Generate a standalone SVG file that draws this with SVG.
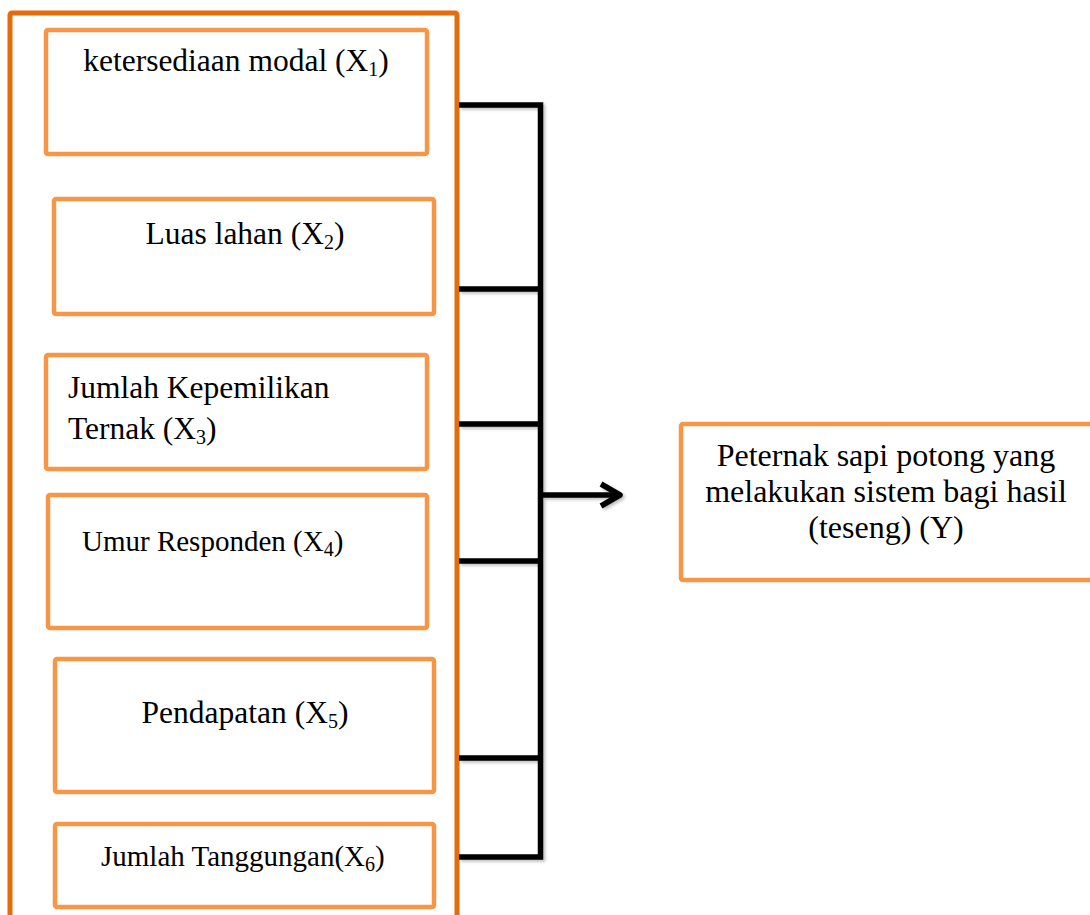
<svg xmlns="http://www.w3.org/2000/svg" width="1090" height="915" viewBox="0 0 1090 915">
<style>
.outer{fill:none;stroke:#E46C0A;stroke-width:5}
.box{fill:#fff;stroke:#F79646;stroke-width:4.5}
.t{font-family:"Liberation Serif","Times New Roman",serif;font-size:31.5px;fill:#000}
.ty{font-family:"Liberation Serif","Times New Roman",serif;font-size:32px;fill:#000}
.ts{font-family:"Liberation Serif","Times New Roman",serif;font-size:29px;fill:#000}
.sub{font-size:20px}
.ln{fill:none;stroke:#000;stroke-width:5.5;stroke-linecap:butt}
</style>
<defs>
<filter id="sh" x="-10%" y="-10%" width="120%" height="120%">
<feDropShadow dx="2" dy="2" stdDeviation="1.5" flood-color="#000" flood-opacity="0.25"/>
</filter>
</defs>
<rect class="outer" x="10" y="13" width="447" height="920" rx="2"/>
<g id="node-x1">
<rect class="box" x="46" y="30" width="381" height="124" rx="2"/>
<text class="t" x="236" y="71" text-anchor="middle">ketersediaan modal (X<tspan class="sub" dy="5">1</tspan><tspan dy="-5">)</tspan></text>
</g>
<g id="node-x2">
<rect class="box" x="54" y="199" width="380" height="115" rx="2"/>
<text class="t" x="245" y="244" text-anchor="middle">Luas lahan (X<tspan class="sub" dy="5">2</tspan><tspan dy="-5">)</tspan></text>
</g>
<g id="node-x3">
<rect class="box" x="46" y="355" width="381" height="114" rx="2"/>
<text class="t" x="68" y="398">Jumlah Kepemilikan</text>
<text class="t" x="68" y="439">Ternak (X<tspan class="sub" dy="5">3</tspan><tspan dy="-5">)</tspan></text>
</g>
<g id="node-x4">
<rect class="box" x="48" y="495" width="379" height="133" rx="2"/>
<text class="ts" x="82" y="551">Umur Responden (X<tspan class="sub" dy="5">4</tspan><tspan dy="-5">)</tspan></text>
</g>
<g id="node-x5">
<rect class="box" x="55" y="659" width="379" height="133" rx="2"/>
<text class="t" x="245" y="723" text-anchor="middle">Pendapatan (X<tspan class="sub" dy="5">5</tspan><tspan dy="-5">)</tspan></text>
</g>
<g id="node-x6">
<rect class="box" x="55" y="824" width="379" height="83" rx="2"/>
<text class="ts" x="101" y="866">Jumlah Tanggungan(X<tspan class="sub" dy="5">6</tspan><tspan dy="-5">)</tspan></text>
</g>
<g id="node-y">
<rect class="box" x="681" y="424" width="420" height="156" rx="2"/>
<text class="ty" x="886" y="466" text-anchor="middle">Peternak sapi potong yang</text>
<text class="ty" x="886" y="502" text-anchor="middle">melakukan sistem bagi hasil</text>
<text class="ty" x="886" y="538" text-anchor="middle">(teseng) (Y)</text>
</g>
<g id="connectors" filter="url(#sh)">
<path class="ln" d="M459 105H540.5V857H459"/>
<path class="ln" d="M459 289H540.5M459 424H540.5M459 561H540.5M459 758H540.5"/>
<path class="ln" d="M540.5 495H620"/>
<path class="ln" d="M601 484L620 495L601 506" stroke-linecap="round" stroke-linejoin="round"/>
</g>
</svg>
